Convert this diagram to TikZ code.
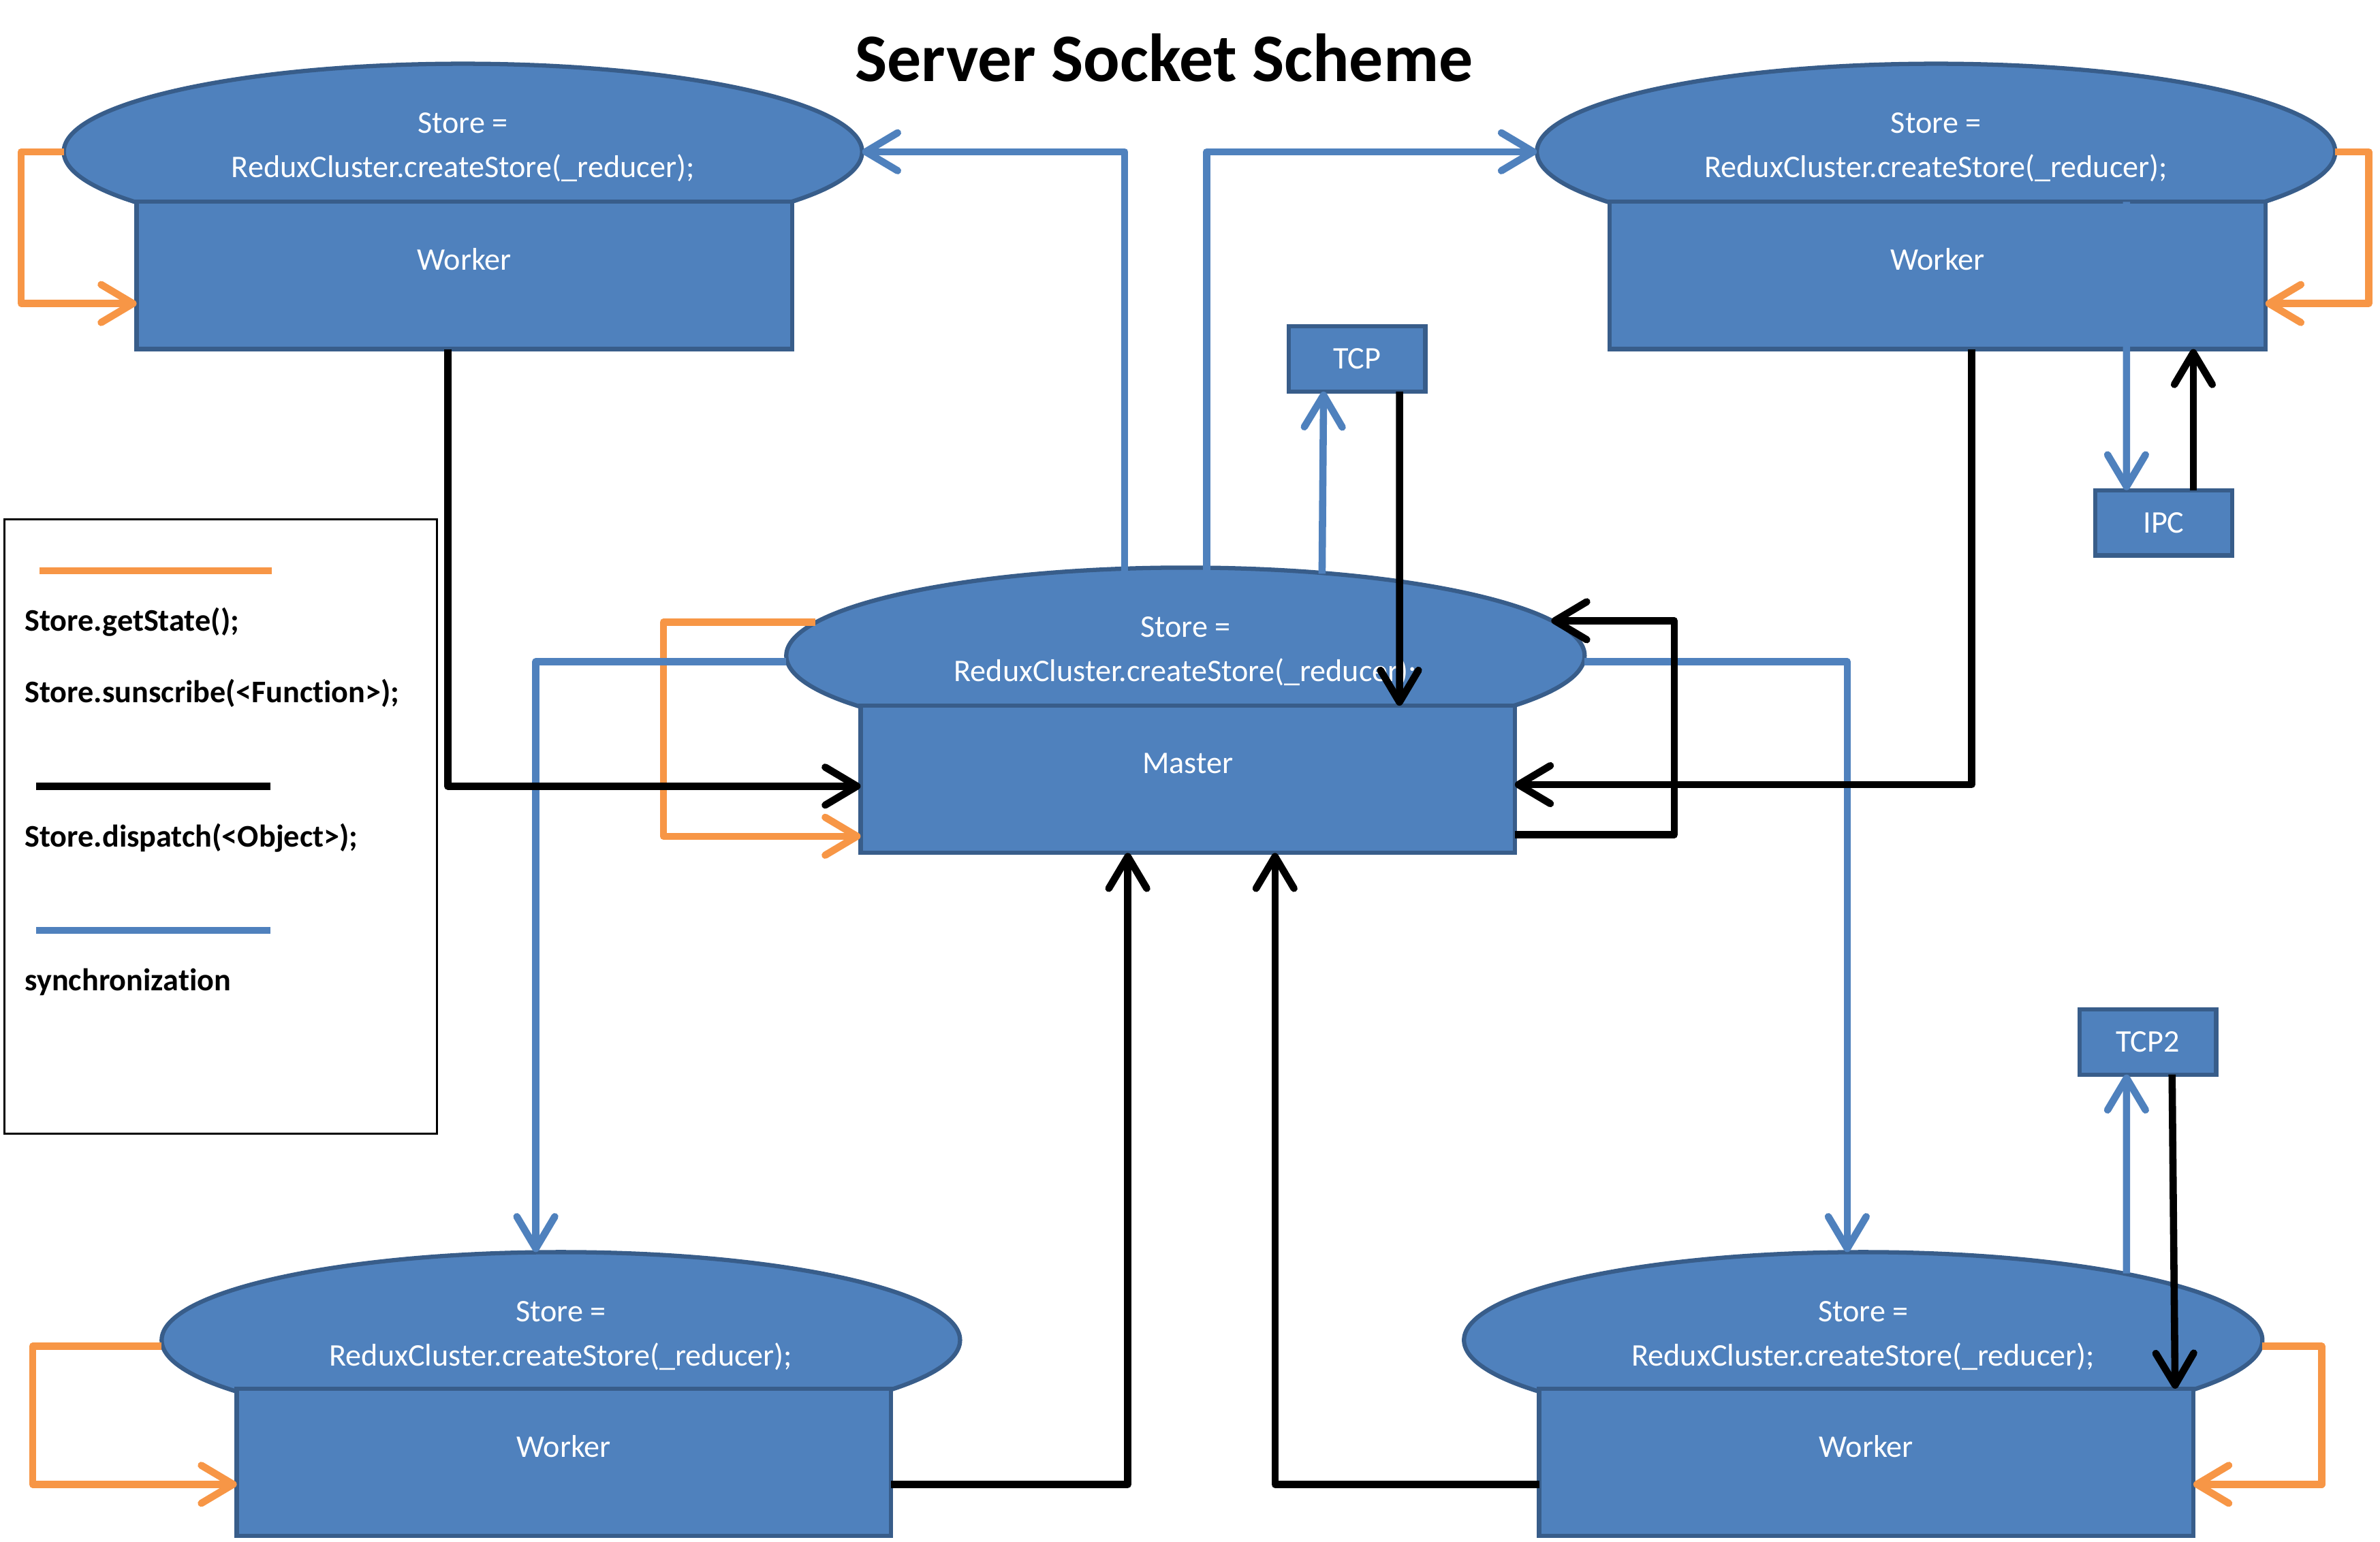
\documentclass[tikz,border=0pt]{standalone}
\usepackage{fontspec}
\setmainfont{Carlito}[Ligatures=NoCommon]
\usetikzlibrary{shapes.geometric,arrows.meta,calc}
\definecolor{bfill}{HTML}{4F81BD}
\definecolor{bdraw}{HTML}{385D8A}
\definecolor{ocol}{HTML}{F79646}
\definecolor{lcol}{HTML}{4F81BD}
\newcommand{\pxu}{0.02cm}
\tikzset{
  shp/.style={fill=bfill, draw=bdraw, line width=1.6pt},
  ell/.style={shp, ellipse, minimum width=526*\pxu, minimum height=116*\pxu, inner sep=0pt, outer sep=0pt},
  boxx/.style={shp, rectangle, inner sep=0pt, outer sep=0pt},
  wbox/.style={boxx, minimum width=432*\pxu, minimum height=97*\pxu},
  sbox/.style={boxx, minimum width=90*\pxu, minimum height=43*\pxu, text=white, font=\fontsize{11.8}{14}\selectfont},
  lbl/.style={text=white, font=\fontsize{11.8}{16.5}\selectfont, align=center, inner sep=0pt},
  conn/.style={line width=2.7pt, line join=round, -{Straight Barb[length=0.42cm,width=0.5cm,round]}},
  orng/.style={conn, draw=ocol},
  blu/.style={conn, draw=lcol},
  blk/.style={conn, draw=black},
  legt/.style={font=\bfseries\fontsize{11.8}{14}\selectfont, anchor=west, inner sep=0pt},
}
\begin{document}
\begin{tikzpicture}[x=0.02cm,y=-0.02cm]
\useasboundingbox (0,0) rectangle (1568,1016);

% title
\node[font=\bfseries\fontsize{25.5}{30}\selectfont, inner sep=0pt] (title) at (767,38) {Server Socket Scheme};

% shapes
\node[ell] (tlE) at (305,100) {};
\node[wbox] (tlR) at (306,181.5) {};
\node[ell] (trE) at (1275.5,100) {};
\node[wbox] (trR) at (1276.5,181.5) {};
\node[ell] (mE) at (781,432) {};
\node[wbox, minimum width=431*\pxu] (mR) at (782.5,513.5) {};
\node[ell] (blE) at (369.5,883) {};
\node[wbox, minimum width=431*\pxu] (blR) at (371.5,963.5) {};
\node[ell] (brE) at (1227.5,883) {};
\node[wbox, minimum width=431*\pxu] (brR) at (1229.5,963.5) {};

\node[sbox] (tcp) at (894,236.5) {TCP};
\node[sbox] (ipc) at (1425.5,344.5) {IPC};
\node[sbox] (tcpb) at (1415,686.5) {TCP2};

% labels
\node[lbl] (tlT) at ($(tlE.center)+(0,-3)$) {Store =\\ReduxCluster.createStore(\_reducer);};
\node[lbl] (trT) at ($(trE.center)+(0,-3)$) {Store =\\ReduxCluster.createStore(\_reducer);};
\node[lbl] (mT) at ($(mE.center)+(0,-3)$) {Store =\\ReduxCluster.createStore(\_reducer);};
\node[lbl] (blT) at ($(blE.center)+(0,-3)$) {Store =\\ReduxCluster.createStore(\_reducer);};
\node[lbl] (brT) at ($(brE.center)+(0,-3)$) {Store =\\ReduxCluster.createStore(\_reducer);};
\node[lbl] (tlW) at ($(tlR.center)+(0,-10.5)$) {Worker};
\node[lbl] (trW) at ($(trR.center)+(0,-10.5)$) {Worker};
\node[lbl] (mW) at ($(mR.center)+(0,-10.5)$) {Master};
\node[lbl] (blW) at ($(blR.center)+(0,-10.5)$) {Worker};
\node[lbl] (brW) at ($(brR.center)+(0,-10.5)$) {Worker};

% orange: getState / subscribe loops
\draw[orng] (tlE.west) -- ++(-28,0) |- ($(tlR.west)+(0,18.5)$);
\draw[orng] (trE.east) -- ++(22,0) |- ($(trR.east)+(0,18.5)$);
\draw[orng] ($(mE.center)+(-244,-22)$) -| ($(mR.west)+(-130,37.5)$) -- ($(mR.west)+(0,37.5)$);
\draw[orng] ($(blE.west)+(0,4)$) -- ++(-85,0) |- ($(blR.west)+(0,14.5)$);
\draw[orng] ($(brE.east)+(0,4)$) -- ++(39,0) |- ($(brR.east)+(0,14.5)$);

% blue: synchronization
\draw[blu] ($(mE.north)+(-40,3)$) |- (tlE.east);
\draw[blu] ($(mE.north)+(14,3)$) |- (trE.west);
\draw[blu] ($(mE.north)+(90,4)$) -- ($(tcp.south)+(-22,0)$);
\draw[blu] ($(mE.west)+(0,4)$) -| ($(blE.north)+(-16.5,0)$);
\draw[blu] ($(mE.east)+(0,4)$) -| ($(brE.north)+(-10.5,0)$);
\draw[blu] ($(trR.north)+(124.5,0)$) -- ($(ipc.north)+(-24.5,0)$);
\draw[blu] ($(brE.center)+(173.5,-44)$) -- ($(tcpb.south)+(-14,0)$);

% black: dispatch
\draw[blk] ($(tlR.south)+(-11,0)$) |- ($(mR.west)+(0,4.5)$);
\draw[blk] ($(trR.south)+(22.5,0)$) |- ($(mR.east)+(0,3.5)$);
\draw[blk] ($(mR.east)+(0,36.5)$) -- ++(105,0) |- ($(mE.center)+(241,-23)$);
\draw[blk] ($(tcp.south)+(28,0)$) -- ($(mR.north)+(139.5,0)$);
\draw[blk] ($(ipc.north)+(19.5,0)$) -- ($(trR.south)+(168.5,0)$);
\draw[blk] ($(blR.east)+(0,14.5)$) -| ($(mR.south)+(-39.5,0)$);
\draw[blk] ($(brR.west)+(0,14.5)$) -| ($(mR.south)+(57.5,0)$);
\draw[blk] ($(tcpb.south)+(16,0)$) -- ($(brR.north)+(203.5,0)$);

% legend
\node[draw=black, line width=0.8pt, minimum width=285*\pxu, minimum height=405*\pxu, inner sep=0pt] (leg) at (145.5,544.5) {};
\draw[ocol, line width=2.7pt] (26,376) -- (179,376);
\node[legt] (l1) at (16,410) {Store.getState();};
\node[legt] (l2) at (16,457) {Store.sunscribe(<Function>);};
\draw[black, line width=2.7pt] (24,518) -- (178,518);
\node[legt] (l3) at (16,552) {Store.dispatch(<Object>);};
\draw[lcol, line width=2.7pt] (24,613) -- (178,613);
\node[legt] (l4) at (16,647) {synchronization};
\end{tikzpicture}
\end{document}
